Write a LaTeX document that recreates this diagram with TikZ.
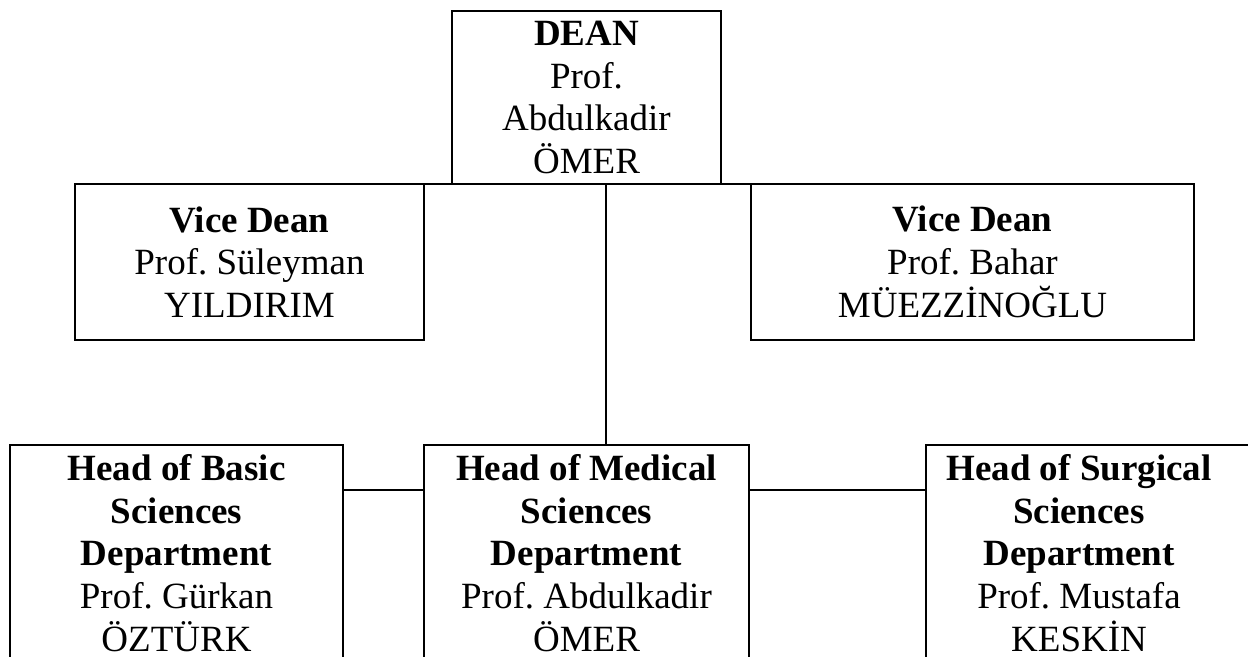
\documentclass[tikz,border=0pt]{standalone}
\usepackage{fontspec}
\setmainfont{Liberation Serif}
\frenchspacing
\begin{document}
\begin{tikzpicture}[x=0.5pt,y=-0.5pt,
  box/.style={draw, line width=0.65pt, inner sep=0pt, outer sep=0pt, align=center,
    font=\fontsize{18.5pt}{21.35pt}\selectfont},
  conn/.style={line width=0.65pt}]
\useasboundingbox (0,0) rectangle (1248,657);
\clip (0,0) rectangle (1248,657);
\node[box, minimum width=269*0.5pt, minimum height=173*0.5pt] (dean) at (586.5,97.5)
  {\textbf{DEAN}\\Prof.\\Abdulkadir\\ÖMER};
\node[box, minimum width=349*0.5pt, minimum height=156*0.5pt] (vl) at (249.5,262)
  {\textbf{Vice Dean}\\Prof. Süleyman\\YILDIRIM};
\node[box, minimum width=443*0.5pt, minimum height=156*0.5pt] (vr) at (972.5,262)
  {\textbf{Vice Dean}\\Prof. Bahar\\MÜEZZİNOĞLU};
\node[box, minimum width=333*0.5pt, minimum height=216*0.5pt] (bl) at (176.5,553)
  {\textbf{Head of Basic}\\\textbf{Sciences}\\\textbf{Department}\\Prof. Gürkan\\ÖZTÜRK};
\node[box, minimum width=325*0.5pt, minimum height=216*0.5pt] (bm) at (586.5,553)
  {\textbf{Head of Medical}\\\textbf{Sciences}\\\textbf{Department}\\Prof. Abdulkadir\\ÖMER};
\node[box, minimum width=340*0.5pt, minimum height=222*0.5pt, anchor=north west] (brbox) at (926,445) {};
\node[box, draw=none] (br) at (1079,553)
  {\textbf{Head of Surgical}\\\textbf{Sciences}\\\textbf{Department}\\Prof. Mustafa\\KESKİN};
\coordinate (j) at (606,0);
\coordinate (h) at (0,490);
\draw[conn] (vl.north east) -- (dean.south west);
\draw[conn] (dean.south east) -- (vr.north west);
\draw[conn] (dean.south -| j) -- (bm.north -| j);
\draw[conn] (bl.east |- h) -- (bm.west |- h);
\draw[conn] (bm.east |- h) -- (brbox.west |- h);
\end{tikzpicture}
\end{document}
